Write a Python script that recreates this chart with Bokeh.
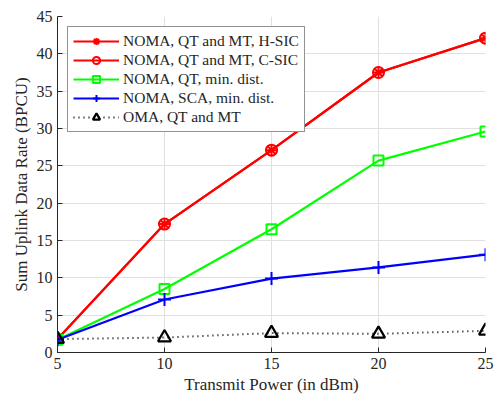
from bokeh.plotting import figure
from bokeh.models import Legend, LegendItem, Range1d
from bokeh.embed import file_html
from bokeh.resources import INLINE

power = [5, 10, 15, 20, 25]
hsic = [1.8, 17.2, 27.1, 37.5, 42.1]
csic = [1.8, 17.2, 27.1, 37.5, 42.1]
qt_min = [1.7, 8.5, 16.5, 25.7, 29.6]
sca_min = [1.7, 7.1, 9.9, 11.4, 13.1]
oma = [1.8, 2.0, 2.6, 2.5, 2.9]

x_ticks = [5, 10, 15, 20, 25]
y_ticks = [0, 5, 10, 15, 20, 25, 30, 35, 40, 45]

FONT = "Liberation Serif"

p = figure(width=499, height=399, output_backend="svg", toolbar_location=None,
           x_range=Range1d(5, 25), y_range=Range1d(0, 45),
           min_border_left=57, min_border_right=14, min_border_top=16, min_border_bottom=47)
p.outline_line_color = None
p.background_fill_color = "white"

for ax in (p.xaxis[0], p.yaxis[0]):
    ax.ticker = x_ticks if ax is p.xaxis[0] else y_ticks
    ax.major_label_text_font = FONT
    ax.major_label_text_font_size = "16px"
    ax.major_label_text_color = "#262626"
    ax.axis_label_text_font = FONT
    ax.axis_label_text_font_size = "17px"
    ax.axis_label_text_font_style = "normal"
    ax.axis_label_text_color = "#262626"
    ax.axis_line_color = "#262626"
    ax.major_tick_line_color = "#262626"
    ax.major_tick_in = 5
    ax.major_tick_out = 0
    ax.minor_tick_line_color = None
    ax.axis_label_standoff = 3
    ax.major_label_standoff = 5

p.xaxis.axis_label = "Transmit Power (in dBm)"
p.yaxis.axis_label = "Sum Uplink Data Rate (BPCU)"
p.xgrid.grid_line_color = "#e0e0e0"
p.ygrid.grid_line_color = "#e0e0e0"

l1 = p.line(power, hsic, line_color="#ff0000", line_width=2.2)
m1 = p.scatter(power, hsic, marker="asterisk", size=12, line_color="#ff0000", line_width=2)
l2 = p.line(power, csic, line_color="#ff0000", line_width=2.2)
m2 = p.scatter(power, csic, marker="circle", size=11, line_color="#ff0000", fill_color=None, line_width=2)
l3 = p.line(power, qt_min, line_color="#00ff00", line_width=2.2)
m3 = p.scatter(power, qt_min, marker="square", size=10, line_color="#00ff00", fill_color=None, line_width=2)
l4 = p.line(power, sca_min, line_color="#0000ff", line_width=2.2)
m4 = p.scatter(power, sca_min, marker="cross", size=13, line_color="#0000ff", line_width=2)
l5 = p.line(power, oma, line_color="black", line_width=2, line_dash="1 4")
m5 = p.scatter(power, oma, marker="triangle", size=13, line_color="black", fill_color=None, line_width=2.2)

legend = Legend(items=[
    LegendItem(label="NOMA, QT and MT, H-SIC", renderers=[l1, m1]),
    LegendItem(label="NOMA, QT and MT, C-SIC", renderers=[l2, m2]),
    LegendItem(label="NOMA, QT, min. dist.", renderers=[l3, m3]),
    LegendItem(label="NOMA, SCA, min. dist.", renderers=[l4, m4]),
    LegendItem(label="OMA, QT and MT", renderers=[l5, m5]),
], location="top_left")
legend.label_text_font = FONT
legend.label_text_font_size = "15.5px"
legend.label_text_color = "#262626"
legend.glyph_width = 46
legend.glyph_height = 18
legend.label_height = 18
legend.spacing = 1
legend.padding = 5
legend.margin = 10
legend.label_standoff = 4
legend.border_line_color = "#262626"
legend.border_line_width = 1
legend.background_fill_alpha = 1
p.add_layout(legend)

open("out.html", "w").write(file_html(p, INLINE))
